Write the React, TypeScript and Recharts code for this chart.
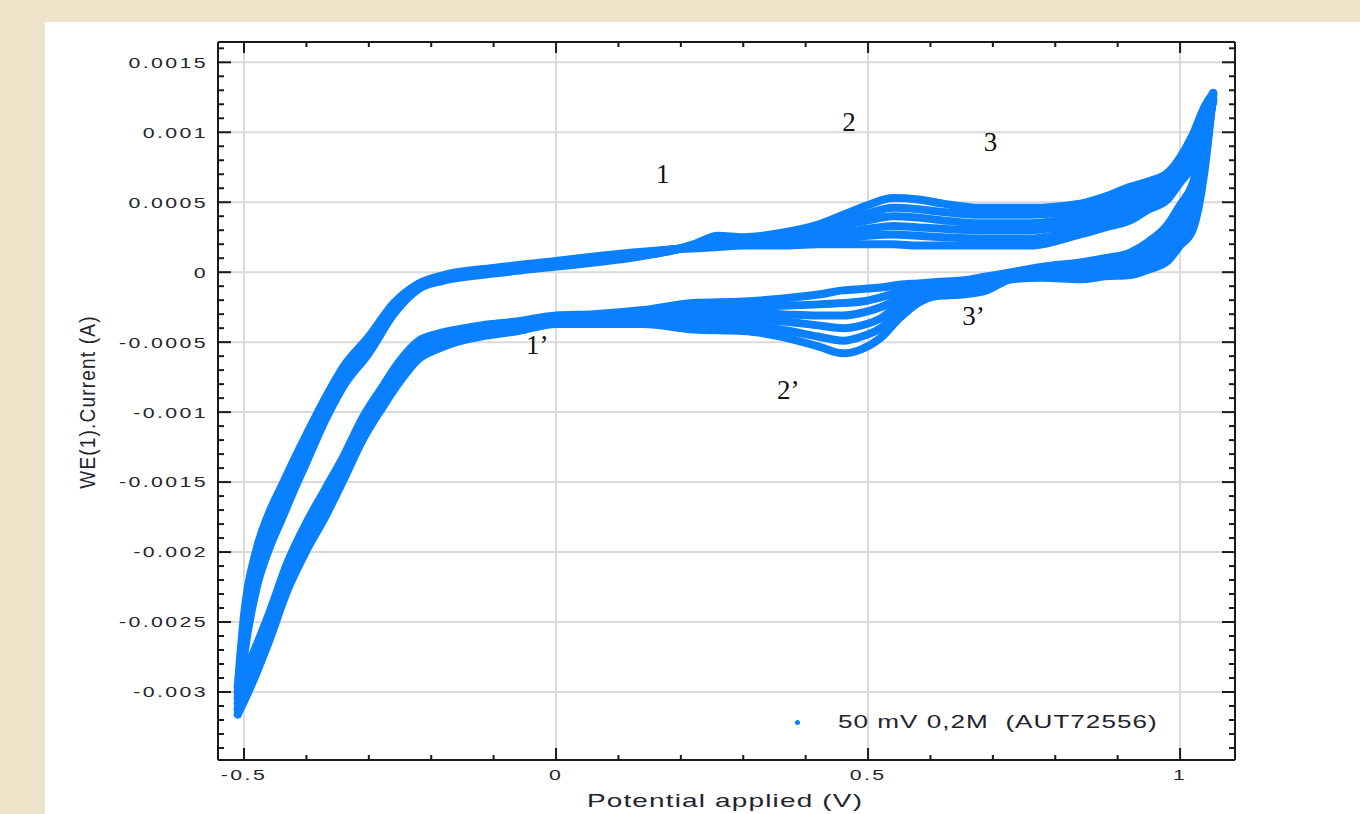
import React from "react";
import { ComposedChart, Line, XAxis, YAxis, CartesianGrid, ReferenceDot } from "recharts";

// forward (anodic) scan, potential in V
const anodicPotential = [
  -0.51, -0.5, -0.48, -0.46, -0.44, -0.42, -0.4, -0.37, -0.34, -0.3, -0.26, -0.22, -0.18, -0.1, 0, 0.1, 0.18, 0.22,
  0.26, 0.3, 0.36, 0.42, 0.46, 0.5, 0.54, 0.58, 0.62, 0.68, 0.76, 0.84, 0.88, 0.92, 0.95, 0.98, 1.0, 1.02, 1.04, 1.053,
];

// anodic current per cycle, mA
const anodicCycle1 = [
  -2.96, -2.45, -1.98, -1.72, -1.53, -1.34, -1.16, -0.9, -0.67, -0.46, -0.22, -0.08, -0.02, 0.03, 0.08, 0.13, 0.16, 0.17,
  0.18, 0.19, 0.19, 0.2, 0.2, 0.2, 0.2, 0.19, 0.19, 0.19, 0.19, 0.27, 0.32, 0.37, 0.45, 0.52, 0.64, 0.76, 1.02, 1.22,
];
const anodicCycle2 = [
  -3.0, -2.51, -2.04, -1.77, -1.58, -1.38, -1.2, -0.93, -0.7, -0.48, -0.24, -0.09, -0.03, 0.02, 0.07, 0.12, 0.16, 0.18,
  0.2, 0.2, 0.21, 0.23, 0.24, 0.26, 0.27, 0.26, 0.25, 0.24, 0.24, 0.31, 0.36, 0.42, 0.49, 0.56, 0.68, 0.8, 1.05, 1.23,
];
const anodicCycle3 = [
  -3.04, -2.57, -2.09, -1.82, -1.63, -1.43, -1.24, -0.96, -0.73, -0.51, -0.25, -0.1, -0.04, 0.01, 0.06, 0.11, 0.16, 0.18,
  0.21, 0.21, 0.23, 0.26, 0.28, 0.31, 0.33, 0.32, 0.31, 0.3, 0.3, 0.36, 0.41, 0.47, 0.53, 0.6, 0.71, 0.85, 1.09, 1.24,
];
const anodicCycle4 = [
  -3.08, -2.63, -2.15, -1.88, -1.67, -1.47, -1.28, -1.0, -0.75, -0.53, -0.27, -0.1, -0.04, 0.01, 0.06, 0.11, 0.15, 0.19,
  0.23, 0.23, 0.24, 0.28, 0.33, 0.37, 0.4, 0.39, 0.37, 0.35, 0.35, 0.4, 0.45, 0.51, 0.57, 0.63, 0.75, 0.89, 1.12, 1.26,
];
const anodicCycle5 = [
  -3.12, -2.69, -2.2, -1.93, -1.72, -1.52, -1.32, -1.03, -0.78, -0.56, -0.28, -0.11, -0.05, 0.0, 0.05, 0.1, 0.15, 0.19,
  0.24, 0.24, 0.26, 0.31, 0.37, 0.42, 0.46, 0.45, 0.43, 0.41, 0.41, 0.45, 0.5, 0.56, 0.61, 0.67, 0.78, 0.94, 1.16, 1.27,
];
const anodicCycle6 = [
  -3.16, -2.75, -2.26, -1.98, -1.77, -1.56, -1.36, -1.06, -0.81, -0.58, -0.3, -0.12, -0.06, -0.01, 0.04, 0.09, 0.15, 0.2,
  0.26, 0.25, 0.28, 0.34, 0.41, 0.48, 0.53, 0.52, 0.49, 0.46, 0.46, 0.49, 0.54, 0.61, 0.65, 0.71, 0.82, 0.98, 1.19, 1.28,
];

// reverse (cathodic) scan, potential in V
const cathodicPotential = [
  1.04, 1.02, 1.0, 0.98, 0.95, 0.92, 0.88, 0.84, 0.78, 0.73, 0.69, 0.65, 0.61, 0.58, 0.55, 0.52, 0.49, 0.46, 0.42, 0.36,
  0.3, 0.22, 0.14, 0.06, 0, -0.06, -0.12, -0.16, -0.19, -0.22, -0.25, -0.28, -0.31, -0.34, -0.37, -0.4, -0.43, -0.46,
  -0.49, -0.51,
];

// cathodic current per cycle, mA
const cathodicCycle1 = [
  1.0, 0.63, 0.48, 0.34, 0.22, 0.14, 0.1, 0.07, 0.04, 0.0, -0.03, -0.06, -0.07, -0.08, -0.09, -0.11, -0.12, -0.13,
  -0.16, -0.19, -0.21, -0.22, -0.27, -0.3, -0.31, -0.35, -0.38, -0.41, -0.44, -0.49, -0.63, -0.83, -1.04, -1.31, -1.55,
  -1.79, -2.07, -2.44, -2.77, -2.96,
];
const cathodicCycle2 = [
  0.95, 0.56, 0.42, 0.29, 0.18, 0.11, 0.07, 0.05, 0.02, -0.01, -0.05, -0.08, -0.09, -0.11, -0.14, -0.18, -0.21, -0.22,
  -0.23, -0.24, -0.25, -0.26, -0.29, -0.31, -0.32, -0.36, -0.4, -0.43, -0.46, -0.52, -0.66, -0.86, -1.07, -1.34, -1.59,
  -1.83, -2.11, -2.48, -2.81, -3.0,
];
const cathodicCycle3 = [
  0.9, 0.5, 0.36, 0.24, 0.14, 0.08, 0.05, 0.02, 0.01, -0.02, -0.07, -0.1, -0.11, -0.14, -0.19, -0.25, -0.29, -0.31,
  -0.31, -0.3, -0.29, -0.3, -0.31, -0.33, -0.33, -0.38, -0.41, -0.45, -0.48, -0.54, -0.69, -0.89, -1.1, -1.38, -1.63,
  -1.87, -2.15, -2.52, -2.85, -3.04,
];
const cathodicCycle4 = [
  0.85, 0.43, 0.31, 0.18, 0.1, 0.04, 0.02, 0.0, -0.01, -0.03, -0.09, -0.12, -0.13, -0.16, -0.23, -0.33, -0.38, -0.4,
  -0.38, -0.35, -0.34, -0.33, -0.33, -0.34, -0.35, -0.39, -0.43, -0.46, -0.51, -0.57, -0.72, -0.92, -1.14, -1.41, -1.67,
  -1.91, -2.19, -2.56, -2.89, -3.08,
];
const cathodicCycle5 = [
  0.8, 0.37, 0.25, 0.13, 0.06, 0.01, 0.0, -0.03, -0.02, -0.04, -0.11, -0.14, -0.15, -0.19, -0.28, -0.4, -0.46, -0.49,
  -0.46, -0.41, -0.38, -0.37, -0.35, -0.36, -0.36, -0.41, -0.44, -0.48, -0.53, -0.59, -0.75, -0.95, -1.17, -1.45, -1.71,
  -1.95, -2.23, -2.6, -2.93, -3.12,
];
const cathodicCycle6 = [
  0.75, 0.3, 0.19, 0.08, 0.02, -0.02, -0.03, -0.05, -0.04, -0.05, -0.13, -0.16, -0.17, -0.22, -0.33, -0.47, -0.55, -0.58,
  -0.53, -0.46, -0.42, -0.41, -0.37, -0.37, -0.37, -0.42, -0.46, -0.5, -0.55, -0.62, -0.78, -0.98, -1.2, -1.48, -1.75,
  -1.99, -2.27, -2.64, -2.97, -3.16,
];

const xMajorTicks = [-0.5, 0, 0.5, 1];
const xTickLabels = ["-0.5", "0", "0.5", "1"];
const yMajorTicks = [-0.003, -0.0025, -0.002, -0.0015, -0.001, -0.0005, 0, 0.0005, 0.001, 0.0015];
const yTickLabels = ["-0.003", "-0.0025", "-0.002", "-0.0015", "-0.001", "-0.0005", "0", "0.0005", "0.001", "0.0015"];

// peak labels placed on the plot (V, A)
const annotations = [
  { label: "1", v: 0.171, i: 0.000709 },
  { label: "2", v: 0.4695, i: 0.00108 },
  { label: "3", v: 0.696, i: 0.000938 },
  { label: "1\u2019", v: -0.03, i: -0.000513 },
  { label: "2\u2019", v: 0.372, i: -0.000835 },
  { label: "3\u2019", v: 0.669, i: -0.000306 },
];

const legendLabel = "50 mV 0,2M  (AUT72556)";

const BLUE = "#0a80ff";
const INK = "#23232e";
const FRAME = "#1a1a1a";
const SANS = "'Liberation Sans', Arial, sans-serif";
const X_DOMAIN: [number, number] = [-0.5417, 1.088];
const Y_DOMAIN: [number, number] = [-0.003486, 0.001645];

const xAllTicks = Array.from({ length: 16 }, (_, k) => (k - 5) / 10);
const yAllTicks = Array.from({ length: 51 }, (_, k) => (k - 34) / 10000);

const anodicCycles = [anodicCycle1, anodicCycle2, anodicCycle3, anodicCycle4, anodicCycle5, anodicCycle6];
const cathodicCycles = [cathodicCycle1, cathodicCycle2, cathodicCycle3, cathodicCycle4, cathodicCycle5, cathodicCycle6];

// each sweep is its own series so the monotone curve never has to turn back in x
const sweeps: { v: number; i: number }[][] = [];
anodicCycles.forEach((an, c) => {
  const ca = cathodicCycles[c];
  const last = an.length - 1;
  sweeps.push(anodicPotential.map((v, k) => ({ v, i: an[k] / 1000 })));
  sweeps.push([
    { v: anodicPotential[last], i: an[last] / 1000 },
    ...cathodicPotential.map((v, k) => ({ v, i: ca[k] / 1000 })),
  ]);
});

const majorIndex = (list: number[], value: number) => list.findIndex((t) => Math.abs(t - value) < 1e-9);

const TICK_MARGIN_L = 10;
const TICK_MARGIN_B = 9;

const labelProps = {
  fontSize: 15,
  letterSpacing: 1.7,
  fill: INK,
  fontFamily: SANS,
};

const LeftTick = (props: any) => {
  const { x, y, payload } = props;
  const idx = majorIndex(yMajorTicks, payload.value);
  const edge = x + TICK_MARGIN_L;
  return (
    <g>
      <line x1={edge} x2={edge + (idx >= 0 ? 13 : 6)} y1={y} y2={y} stroke={FRAME} strokeWidth={2} />
      {idx >= 0 && (
        <text transform={`translate(${x},${y}) scale(1.42,1)`} textAnchor="end" dy="0.36em" {...labelProps}>
          {yTickLabels[idx]}
        </text>
      )}
    </g>
  );
};

const BottomTick = (props: any) => {
  const { x, y, payload } = props;
  const idx = majorIndex(xMajorTicks, payload.value);
  const edge = y - TICK_MARGIN_B;
  return (
    <g>
      <line x1={x} x2={x} y1={edge} y2={edge - (idx >= 0 ? 12 : 5)} stroke={FRAME} strokeWidth={2} />
      {idx >= 0 && (
        <text transform={`translate(${x},${y}) scale(1.42,1)`} textAnchor="middle" dy="0.7em" {...labelProps}>
          {xTickLabels[idx]}
        </text>
      )}
    </g>
  );
};

const TopTick = (props: any) => {
  const { x, y, payload } = props;
  const major = majorIndex(xMajorTicks, payload.value) >= 0;
  return <line x1={x} x2={x} y1={y} y2={y + (major ? 11 : 5)} stroke={FRAME} strokeWidth={2} />;
};

const RightTick = (props: any) => {
  const { x, y, payload } = props;
  const major = majorIndex(yMajorTicks, payload.value) >= 0;
  return <line x1={x} x2={x - (major ? 13 : 6)} y1={y} y2={y} stroke={FRAME} strokeWidth={2} />;
};

export default function App() {
  return (
    <div style={{ position: "absolute", left: 0, top: 0, width: 1360, height: 814, background: "#efe4ca", overflow: "hidden" }}>
      <div style={{ position: "absolute", left: 45, top: 22, width: 1315, height: 792, background: "#fff" }} />
      <div style={{ position: "absolute", left: 0, top: 0 }}>
        <ComposedChart width={1360} height={814} margin={{ top: 41, right: 124, bottom: 24, left: 158 }}>
          <CartesianGrid
            stroke="#dadada"
            strokeWidth={2}
            horizontalValues={yMajorTicks}
            verticalValues={xMajorTicks}
          />
          <XAxis
            dataKey="v"
            type="number"
            domain={X_DOMAIN}
            allowDataOverflow
            ticks={xAllTicks}
            interval={0}
            tick={BottomTick}
            tickLine={false}
            tickSize={0}
            tickMargin={TICK_MARGIN_B}
            height={30}
            axisLine={{ stroke: FRAME, strokeWidth: 2 }}
          />
          <XAxis
            xAxisId="top"
            orientation="top"
            dataKey="v"
            type="number"
            domain={X_DOMAIN}
            allowDataOverflow
            ticks={xAllTicks}
            interval={0}
            tick={TopTick}
            tickLine={false}
            tickSize={0}
            tickMargin={0}
            height={1}
            axisLine={{ stroke: FRAME, strokeWidth: 2 }}
          />
          <YAxis
            type="number"
            domain={Y_DOMAIN}
            allowDataOverflow
            ticks={yAllTicks}
            interval={0}
            tick={LeftTick}
            tickLine={false}
            tickSize={0}
            tickMargin={TICK_MARGIN_L}
            width={60}
            axisLine={{ stroke: FRAME, strokeWidth: 2 }}
          />
          <YAxis
            yAxisId="right"
            orientation="right"
            type="number"
            domain={Y_DOMAIN}
            allowDataOverflow
            ticks={yAllTicks}
            interval={0}
            tick={RightTick}
            tickLine={false}
            tickSize={0}
            tickMargin={0}
            width={1}
            axisLine={{ stroke: FRAME, strokeWidth: 2 }}
          />
          {sweeps.map((data, s) => (
            <Line
              key={s}
              data={data}
              dataKey="i"
              type="monotone"
              stroke={BLUE}
              strokeWidth={8}
              strokeLinejoin="round"
              strokeLinecap="round"
              dot={false}
              activeDot={false}
              isAnimationActive={false}
            />
          ))}
          {annotations.map((a) => (
            <ReferenceDot
              key={a.label}
              x={a.v}
              y={a.i}
              r={1}
              fill="none"
              stroke="none"
              ifOverflow="visible"
              label={{
                value: a.label,
                position: "center",
                fill: "#111",
                fontSize: 27,
                fontFamily: "'Liberation Serif', 'Times New Roman', serif",
              }}
            />
          ))}
        </ComposedChart>
      </div>
      <div
        style={{
          position: "absolute",
          left: 88,
          top: 402,
          transform: "translate(-50%, -50%) rotate(-90deg) scaleY(1.2)",
          fontFamily: SANS,
          fontSize: 19,
          letterSpacing: 1.2,
          color: INK,
          whiteSpace: "nowrap",
        }}
      >
        WE(1).Current (A)
      </div>
      <div
        style={{
          position: "absolute",
          left: 725,
          top: 801,
          transform: "translate(-50%, -50%) scaleX(1.47)",
          fontFamily: SANS,
          fontSize: 19,
          letterSpacing: 0.8,
          color: INK,
          whiteSpace: "nowrap",
        }}
      >
        Potential applied (V)
      </div>
      <div style={{ position: "absolute", left: 795, top: 720, width: 5, height: 5, borderRadius: 3, background: BLUE }} />
      <div
        style={{
          position: "absolute",
          left: 838,
          top: 722,
          transform: "translateY(-50%) scaleX(1.45)",
          transformOrigin: "left center",
          fontFamily: SANS,
          fontSize: 18,
          letterSpacing: 0.7,
          color: INK,
          whiteSpace: "pre",
        }}
      >
        {legendLabel}
      </div>
    </div>
  );
}
